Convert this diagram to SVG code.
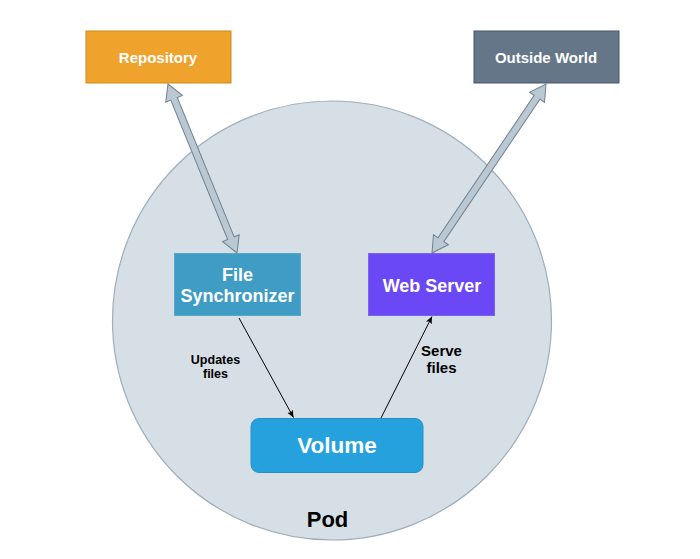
<svg xmlns="http://www.w3.org/2000/svg" width="700" height="559" viewBox="0 0 700 559">
<defs>
<style>
text{font-family:"Liberation Sans",Arial,sans-serif;font-weight:bold;text-anchor:middle}
.w{fill:#ffffff}
.k{fill:#000000}
.block{fill:#BAC8D3;stroke:#6F8190;stroke-width:1}
.thin{fill:none;stroke:#000000;stroke-width:1}
</style>
<marker id="ah" viewBox="0 0 10 10" refX="9" refY="5" markerWidth="8" markerHeight="8" markerUnits="userSpaceOnUse" orient="auto">
<path d="M0,1 L9,5 L0,9 L2,5 Z" fill="#000"/>
</marker>
</defs>
<rect width="700" height="559" fill="#ffffff"/>
<g id="pod">
<ellipse cx="332" cy="320.5" rx="219.5" ry="219.5" fill="#D6DFE5" stroke="#9EAEBC" stroke-width="1.2"/>
<text class="k" x="327.5" y="527" font-size="22">Pod</text>
</g>
<g id="connectors">
<path class="block" transform="translate(168,84) rotate(67.8)" d="M0,0 L16,-9 L16,-3.5 L166.5,-3.5 L166.5,-9 L182.5,0 L166.5,9 L166.5,3.5 L16,3.5 L16,9 Z"/>
<path class="block" transform="translate(546,84) rotate(124)" d="M0,0 L16,-9 L16,-3.5 L187.9,-3.5 L187.9,-9 L203.9,0 L187.9,9 L187.9,3.5 L16,3.5 L16,9 Z"/>
<line class="thin" x1="239" y1="318" x2="293.5" y2="417.5" marker-end="url(#ah)"/>
<line class="thin" x1="381" y1="418" x2="432" y2="316.5" marker-end="url(#ah)"/>
<text class="k" font-size="12.5"><tspan x="215.5" y="364">Updates</tspan><tspan x="215.5" y="378">files</tspan></text>
<text class="k" font-size="15"><tspan x="441.5" y="356">Serve</tspan><tspan x="441.5" y="373">files</tspan></text>
</g>
<g id="repository">
<rect x="86" y="31" width="145" height="52" fill="#EFA22C" stroke="#D08A1A"/>
<text class="w" x="158" y="63" font-size="15">Repository</text>
</g>
<g id="outside-world">
<rect x="474" y="31" width="145" height="52" fill="#647687" stroke="#44566A"/>
<text class="w" x="546" y="63" font-size="15">Outside World</text>
</g>
<g id="file-synchronizer">
<rect x="174.5" y="253.5" width="126" height="62" fill="#3F9CC5" stroke="#5AA6CA"/>
<text class="w" font-size="18"><tspan x="237.5" y="281">File</tspan><tspan x="237.5" y="302">Synchronizer</tspan></text>
</g>
<g id="web-server">
<rect x="368.5" y="253.5" width="126" height="62" fill="#6A48F6" stroke="#7C62F0"/>
<text class="w" x="432" y="292" font-size="18">Web Server</text>
</g>
<g id="volume">
<rect x="251" y="418.5" width="172" height="54" rx="8" ry="8" fill="#25A2DE" stroke="#2B8FC4"/>
<text class="w" x="337" y="453" font-size="22.5">Volume</text>
</g>
</svg>
